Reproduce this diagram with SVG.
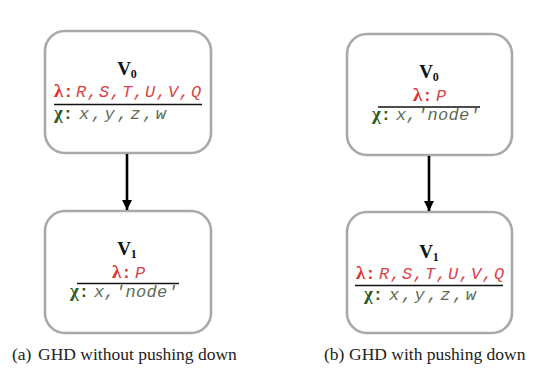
<svg xmlns="http://www.w3.org/2000/svg" width="535" height="369" viewBox="0 0 535 369">
<defs>
<style>
.box{fill:#fff;stroke:#a9a9a9;stroke-width:2.6}
.v{font-family:"Liberation Serif",serif;font-weight:bold;font-size:19px;fill:#111;text-anchor:middle}
.sub{font-size:12px}
.lam{font-family:"Liberation Serif",serif;font-weight:bold;font-size:19px;fill:#e03131}
.chi{font-family:"Liberation Serif",serif;font-weight:bold;font-size:19px;fill:#2e5a24}
.col{font-family:"Liberation Mono",monospace;font-weight:bold;font-size:17px}
.lt{font-family:"Liberation Mono",monospace;font-style:italic;font-size:17px;fill:#d9444a;letter-spacing:1.3px}
.ct{font-family:"Liberation Mono",monospace;font-style:italic;font-size:17px;fill:#5d6b55;letter-spacing:1.3px}
.wide{letter-spacing:2.6px}
.tight{letter-spacing:0.3px}
.sep{stroke:#111;stroke-width:1.6}
.cap{font-family:"Liberation Serif",serif;font-size:17.5px;fill:#222}
.edge{stroke:#000;stroke-width:2.6;fill:none}
</style>
<marker id="ah" viewBox="0 0 10 10" refX="10" refY="5" markerWidth="4" markerHeight="4" markerUnits="strokeWidth" orient="auto">
<path d="M0,0 L10,5 L0,10 z" fill="#000"/>
</marker>
</defs>
<g id="a-v0">
<rect class="box" x="45" y="31" width="166" height="122" rx="20"/>
<text class="v" x="127" y="75">V<tspan class="sub" dy="3">0</tspan></text>
<text x="54" y="97"><tspan class="lam">λ<tspan class="col">:</tspan></tspan><tspan class="lt" x="76">R,S,T,U,V,Q</tspan></text>
<line class="sep" x1="54" y1="104.5" x2="202" y2="104.5"/>
<text x="54" y="119"><tspan class="chi">χ<tspan class="col">:</tspan></tspan><tspan class="ct wide" x="79">x,y,z,w</tspan></text>
</g>
<g id="a-v1">
<rect class="box" x="45" y="211" width="166" height="122" rx="20"/>
<text class="v" x="127" y="255">V<tspan class="sub" dy="3">1</tspan></text>
<text x="112" y="278"><tspan class="lam">λ<tspan class="col">:</tspan></tspan><tspan class="lt" x="135">P</tspan></text>
<line class="sep" x1="77" y1="283.5" x2="179" y2="283.5"/>
<text x="70" y="297"><tspan class="chi">χ<tspan class="col">:</tspan></tspan><tspan class="ct tight" x="94">x,'node'</tspan></text>
</g>
<g id="b-v0">
<rect class="box" x="347" y="34" width="165" height="121" rx="20"/>
<text class="v" x="429" y="78">V<tspan class="sub" dy="3">0</tspan></text>
<text x="413" y="101"><tspan class="lam">λ<tspan class="col">:</tspan></tspan><tspan class="lt" x="436">P</tspan></text>
<line class="sep" x1="378" y1="107" x2="480" y2="107"/>
<text x="372" y="120"><tspan class="chi">χ<tspan class="col">:</tspan></tspan><tspan class="ct tight" x="396">x,'node'</tspan></text>
</g>
<g id="b-v1">
<rect class="box" x="347" y="212" width="165" height="121" rx="20"/>
<text class="v" x="429" y="258">V<tspan class="sub" dy="3">1</tspan></text>
<text x="356" y="279"><tspan class="lam">λ<tspan class="col">:</tspan></tspan><tspan class="lt" x="379">R,S,T,U,V,Q</tspan></text>
<line class="sep" x1="355" y1="285.5" x2="503" y2="285.5"/>
<text x="364" y="300"><tspan class="chi">χ<tspan class="col">:</tspan></tspan><tspan class="ct wide" x="389">x,y,z,w</tspan></text>
</g>
<g id="connectors">
<line class="edge" x1="127" y1="154" x2="127" y2="210" marker-end="url(#ah)"/>
<line class="edge" x1="429" y1="156" x2="429" y2="211" marker-end="url(#ah)"/>
</g>
<g id="captions">
<text class="cap" x="12" y="360">(a)<tspan x="38">GHD without pushing down</tspan></text>
<text class="cap" x="324" y="360">(b)<tspan x="349">GHD with pushing down</tspan></text>
</g>
</svg>
